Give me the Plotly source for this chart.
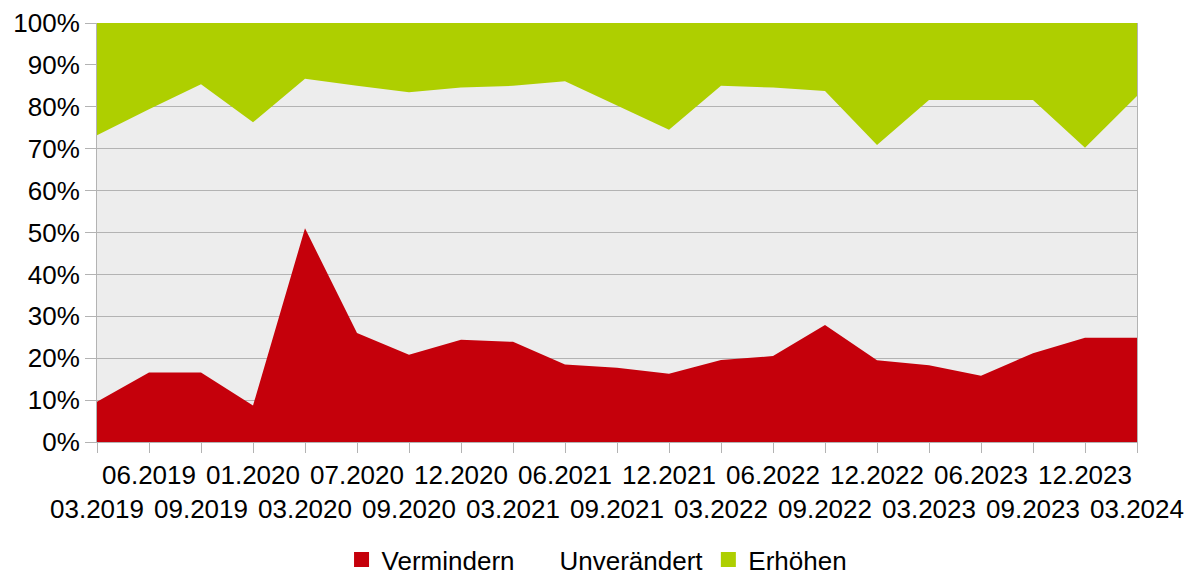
import plotly.graph_objects as go

categories = ["03.2019", "06.2019", "09.2019", "01.2020", "03.2020", "07.2020", "09.2020",
              "12.2020", "03.2021", "06.2021", "09.2021", "12.2021", "03.2022", "06.2022",
              "09.2022", "12.2022", "03.2023", "06.2023", "09.2023", "12.2023", "03.2024"]
vermindern = [9.6, 16.6, 16.6, 8.7, 51.0, 26.0, 20.8, 24.4, 23.9, 18.5, 17.7,
              16.3, 19.6, 20.5, 27.9, 19.5, 18.3, 15.8, 21.2, 24.9, 24.9]
unveraendert = [63.6, 62.8, 68.8, 67.6, 35.7, 59.0, 62.7, 60.2, 61.1, 67.6, 62.6,
                58.2, 65.4, 64.1, 55.9, 51.4, 63.3, 65.8, 60.4, 45.3, 57.7]
erhoehen = [26.8, 20.6, 14.6, 23.7, 13.3, 15.0, 16.5, 15.4, 15.0, 13.9, 19.7,
            25.5, 15.0, 15.4, 16.2, 29.1, 18.4, 18.4, 18.4, 29.8, 17.4]
y_ticks = [0, 10, 20, 30, 40, 50, 60, 70, 80, 90, 100]

xs = list(range(len(categories)))
ticktext = [("<br>" + c) if i % 2 == 0 else c for i, c in enumerate(categories)]

FONT = "Liberation Sans, Arial, sans-serif"
RED = "#c5000b"
GREEN = "#aecf00"
FS = 26

fig = go.Figure()
fig.add_trace(go.Scatter(x=xs, y=vermindern, name="Vermindern", stackgroup="one",
                         groupnorm="percent", mode="lines", line=dict(width=0, color=RED),
                         fillcolor=RED, showlegend=False, legendgroup="v"))
fig.add_trace(go.Scatter(x=xs, y=unveraendert, name="Unverändert", stackgroup="one",
                         mode="lines", line=dict(width=0, color="rgba(0,0,0,0)"),
                         fillcolor="rgba(0,0,0,0)", showlegend=False, legendgroup="u"))
fig.add_trace(go.Scatter(x=xs, y=erhoehen, name="Erhöhen", stackgroup="one",
                         mode="lines", line=dict(width=0, color=GREEN),
                         fillcolor=GREEN, showlegend=False, legendgroup="e"))

# legend entries (square swatches like the reference)
for name, col, grp in [("Vermindern", RED, "v"), ("Unverändert", "rgba(0,0,0,0)", "u"),
                       ("Erhöhen", GREEN, "e")]:
    fig.add_trace(go.Scatter(x=[None], y=[None], name=name, mode="markers", legendgroup=grp,
                             marker=dict(symbol="square", size=15, color=col,
                                         line=dict(width=0))))

fig.update_layout(
    width=1184, height=575,
    margin=dict(l=89, r=55, t=15, b=141, autoexpand=False),
    paper_bgcolor="white", plot_bgcolor="#ededed",
    font=dict(family=FONT, size=FS, color="#000000"),
    showlegend=True,
    legend=dict(orientation="h", xref="container", yref="container",
                x=0.4975, xanchor="center", y=-0.009, yanchor="bottom",
                font=dict(size=FS), traceorder="normal", itemwidth=30,
                borderwidth=0, bgcolor="rgba(0,0,0,0)"),
)
fig.update_xaxes(
    range=[0, len(categories) - 1], tickmode="array", tickvals=xs, ticktext=ticktext,
    showgrid=False, zeroline=False, showline=True, linecolor="#b3b3b3", linewidth=1,
    ticks="outside", ticklen=10, tickcolor="#b3b3b3", tickfont=dict(size=FS), tickangle=0,
    automargin=False,
)
fig.update_yaxes(
    range=[0, 100], tickmode="array", tickvals=y_ticks, ticktext=[f"{v}%" for v in y_ticks],
    showgrid=True, gridcolor="#b3b3b3", gridwidth=1, zeroline=False,
    showline=True, linecolor="#b3b3b3", linewidth=1, mirror=True,
    ticks="outside", ticklen=11, tickcolor="#b3b3b3", tickfont=dict(size=FS),
    automargin=False,
)

fig.write_html("out.html")
